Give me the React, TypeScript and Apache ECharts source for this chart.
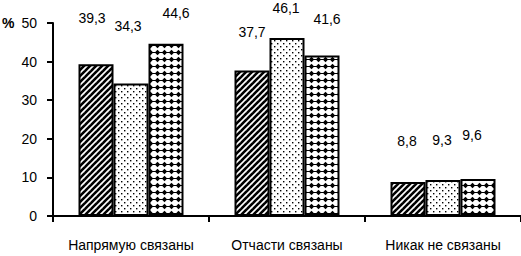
import React, { useEffect, useRef } from "react";
import * as echarts from "echarts";

const categories = ["Напрямую связаны", "Отчасти связаны", "Никак не связаны"];
const seriesA = [39.3, 37.7, 8.8];
const seriesB = [34.3, 46.1, 9.3];
const seriesC = [44.6, 41.6, 9.6];
const yTicks = { min: 0, max: 50, interval: 10 };

// label nudges (style only), [dx, dy] per bar
const shiftA = [[-4, -34], [0, -26], [-1, -29]];
const shiftB = [[-3, -46], [-1, -18], [-1, -28]];
const shiftC = [[10, -19], [5, -24], [-6, -32]];

function makeTile(size: number, draw: (c: CanvasRenderingContext2D, s: number) => void) {
  const cv = document.createElement("canvas");
  cv.width = size;
  cv.height = size;
  const c = cv.getContext("2d")!;
  c.fillStyle = "#fff";
  c.fillRect(0, 0, size, size);
  c.fillStyle = "#000";
  c.strokeStyle = "#000";
  draw(c, size);
  return cv;
}

const fmt = (v: number) => v.toFixed(1).replace(".", ",");

export default function App() {
  const ref = useRef<HTMLDivElement>(null);
  useEffect(() => {
    document.body.style.margin = "0";
    const chart = echarts.init(ref.current!, undefined, { renderer: "svg" });

    const hatch = makeTile(6, (c, s) => {
      c.lineWidth = 2.6;
      for (let o = -s; o <= s; o += s) {
        c.beginPath();
        c.moveTo(o - 1, s + 1);
        c.lineTo(o + s + 1, -1);
        c.stroke();
      }
    });
    const dots = makeTile(6, (c) => {
      c.fillRect(1, 1, 1.4, 1.4);
      c.fillRect(4, 4, 1.4, 1.4);
    });
    const checker = makeTile(7, (c) => {
      c.beginPath();
      c.moveTo(3.5, 0.8);
      c.lineTo(6.2, 3.5);
      c.lineTo(3.5, 6.2);
      c.lineTo(0.8, 3.5);
      c.closePath();
      c.fill();
      c.fillRect(0, 3, 7, 1);
    });

    const font = "'Liberation Sans', Arial, sans-serif";
    const mk = (vals: number[], shifts: number[][], tile: HTMLCanvasElement) => ({
      type: "bar",
      barWidth: 35,
      barGap: "0%",
      itemStyle: {
        color: { image: tile, repeat: "repeat" },
        borderColor: "#000",
        borderWidth: 2,
      },
      data: vals.map((v, i) => ({
        value: v,
        label: { offset: shifts[i] },
      })),
      label: {
        show: true,
        position: "top",
        distance: 5,
        color: "#000",
        fontSize: 14,
        fontFamily: font,
        formatter: (p: any) => fmt(p.value),
      },
    });

    chart.setOption({
      animation: false,
      grid: { left: 53, right: 0, top: 23, bottom: 40 },
      graphic: [
        {
          type: "text",
          left: 2,
          top: 16,
          style: { text: "%", fontSize: 14, fontWeight: "bold", fontFamily: font, fill: "#000" },
        },
      ],
      xAxis: {
        type: "category",
        data: categories,
        axisLine: { lineStyle: { color: "#000", width: 2 } },
        axisTick: { show: true, length: 6, lineStyle: { color: "#000", width: 2 } },
        axisLabel: { color: "#000", fontSize: 14, fontFamily: font, margin: 22, interval: 0 },
      },
      yAxis: {
        type: "value",
        min: yTicks.min,
        max: yTicks.max,
        interval: yTicks.interval,
        splitLine: { show: false },
        axisLine: { show: true, lineStyle: { color: "#000", width: 2 } },
        axisTick: { show: true, length: 6, lineStyle: { color: "#000", width: 2 } },
        axisLabel: { color: "#000", fontSize: 14, fontFamily: font, margin: 16 },
      },
      series: [mk(seriesA, shiftA, hatch), mk(seriesB, shiftB, dots), mk(seriesC, shiftC, checker)],
    });
    return () => chart.dispose();
  }, []);
  return <div ref={ref} style={{ width: 521, height: 256 }} />;
}
